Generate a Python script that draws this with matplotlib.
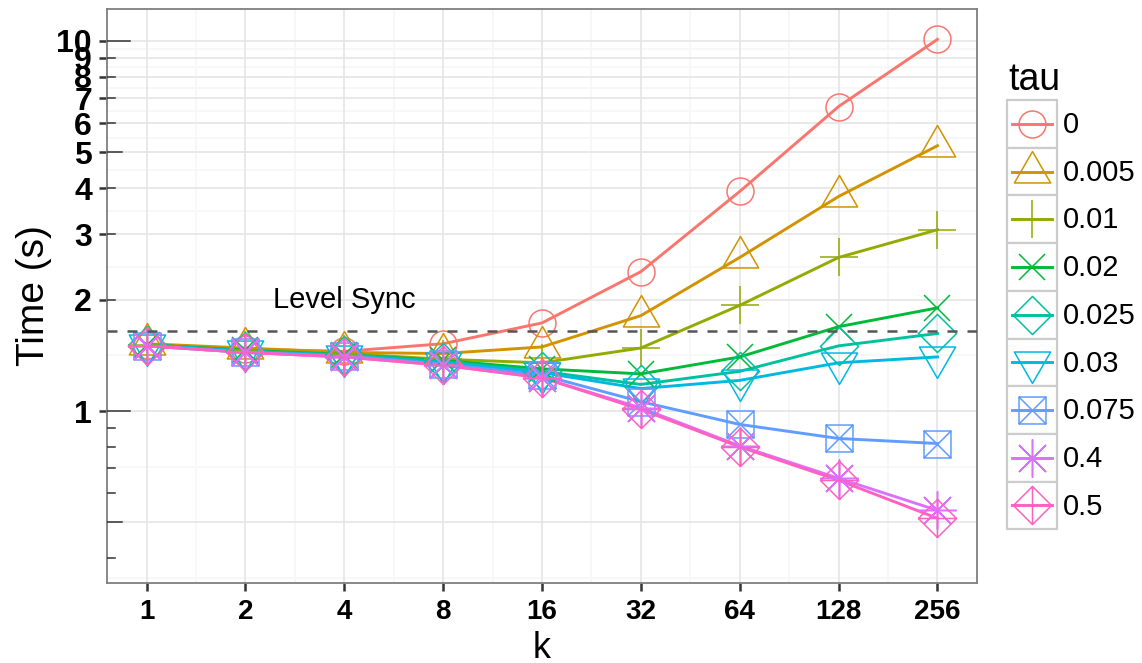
import numpy as np
import matplotlib
matplotlib.use("Agg")
import matplotlib.pyplot as plt
from matplotlib.path import Path
from matplotlib.lines import Line2D
from matplotlib.patches import Rectangle
from matplotlib.ticker import NullLocator
from matplotlib.legend_handler import HandlerLine2D

plt.rcParams['font.family'] = ['Liberation Sans', 'DejaVu Sans']

# data
K = [1, 2, 4, 8, 16, 32, 64, 128, 256]
TAU = ['0', '0.005', '0.01', '0.02', '0.025', '0.03', '0.075', '0.4', '0.5']

t_0 = [1.51, 1.47, 1.45, 1.52, 1.73, 2.38, 3.92, 6.65, 10.1]
t_0005 = [1.52, 1.48, 1.44, 1.43, 1.49, 1.81, 2.60, 3.80, 5.21]
t_001 = [1.51, 1.46, 1.43, 1.38, 1.35, 1.48, 1.93, 2.60, 3.09]
t_002 = [1.51, 1.46, 1.42, 1.37, 1.30, 1.26, 1.40, 1.69, 1.90]
t_0025 = [1.51, 1.45, 1.42, 1.36, 1.28, 1.18, 1.28, 1.50, 1.62]
t_003 = [1.51, 1.45, 1.41, 1.35, 1.27, 1.15, 1.21, 1.35, 1.40]
t_0075 = [1.50, 1.44, 1.41, 1.34, 1.25, 1.06, 0.92, 0.843, 0.817]
t_04 = [1.50, 1.44, 1.40, 1.33, 1.23, 1.02, 0.805, 0.658, 0.539]
t_05 = [1.50, 1.44, 1.40, 1.33, 1.23, 1.01, 0.800, 0.650, 0.513]
SERIES = [t_0, t_0005, t_001, t_002, t_0025, t_003, t_0075, t_04, t_05]

LEVEL_SYNC = 1.645

Y_LABELED = [1, 2, 3, 4, 5, 6, 7, 8, 9, 10]
Y_GRID = [0.5] + Y_LABELED
LOG_LONG = [1, 10]
LOG_MID = [0.5, 5]
LOG_SHORT = [0.4, 0.6, 0.7, 0.8, 0.9, 2, 3, 4, 6, 7, 8, 9]

COLORS = ['#F8766D', '#D39200', '#93AA00', '#00BA38', '#00C19F',
          '#00B9E3', '#619CFF', '#DB72FB', '#FF61C3']

M, L, C = Path.MOVETO, Path.LINETO, Path.CLOSEPOLY
tri_up = Path([(0, 1), (-0.866, -0.5), (0.866, -0.5), (0, 1)], [M, L, L, C])
tri_dn = Path([(0, -1), (-0.866, 0.5), (0.866, 0.5), (0, -1)], [M, L, L, C])
diamond = Path([(0, 1), (1, 0), (0, -1), (-1, 0), (0, 1)], [M, L, L, L, C])
square_x = Path([(-1, -1), (1, -1), (1, 1), (-1, 1), (-1, -1),
                 (-1, -1), (1, 1), (-1, 1), (1, -1)],
                [M, L, L, L, C, M, L, M, L])
diamond_plus = Path([(0, 1), (1, 0), (0, -1), (-1, 0), (0, 1),
                     (-1, 0), (1, 0), (0, -1), (0, 1)],
                    [M, L, L, L, C, M, L, M, L])

MARKERS = ['o', tri_up, '+', 'x', diamond, tri_dn, square_x, (8, 2, 0), diamond_plus]
R0 = 9.7
SIZES = [2 * R0, 3.11 * R0, 2.83 * R0, 2 * R0, 2.83 * R0, 3.11 * R0, 2 * R0, 2.83 * R0, 2.83 * R0]
LW = 2.1
MEW = 1.1


class BoxHandler(HandlerLine2D):
    def create_artists(self, legend, orig_handle, xdescent, ydescent,
                       width, height, fontsize, trans):
        box = Rectangle((-xdescent, -ydescent), width, height, facecolor='white',
                        edgecolor='#CCCCCC', lw=1.6, transform=trans)
        y = -ydescent + height / 2
        x0 = -xdescent + 0.1 * width
        x1 = -xdescent + 0.9 * width
        line = Line2D([x0, x1], [y, y])
        self.update_prop(line, orig_handle, legend)
        line.set_marker('')
        line.set_transform(trans)
        mk = Line2D([(x0 + x1) / 2], [y])
        self.update_prop(mk, orig_handle, legend)
        mk.set_linestyle('none')
        mk.set_transform(trans)
        return [box, line, mk]


fig = plt.figure(figsize=(11.42, 6.63), dpi=100)
ax = fig.add_axes([107 / 1142, 1 - 583 / 663, 870 / 1142, 574 / 663])

ax.set_xscale('log', base=2)
ax.set_yscale('log')

# grid
for v in Y_GRID:
    ax.axhline(v, color='#E5E5E5', lw=1.2, zorder=0.5)
y_minor = [np.sqrt(a * b) for a, b in zip(Y_GRID[:-1], Y_GRID[1:])] + [0.5 / np.sqrt(2)]
for v in y_minor:
    ax.axhline(v, color='#F6F6F6', lw=1.2, zorder=0.4)
for v in K:
    ax.axvline(v, color='#E5E5E5', lw=1.2, zorder=0.5)
for a, b in zip(K[:-1], K[1:]):
    ax.axvline(np.sqrt(a * b), color='#F6F6F6', lw=1.2, zorder=0.4)

# lines first, then points (ggplot order)
for vals, c in zip(SERIES, COLORS):
    ax.plot(K, vals, color=c, lw=LW, zorder=3)
for vals, c, m, ms in zip(SERIES, COLORS, MARKERS, SIZES):
    ax.plot(K, vals, ls='none', marker=m, ms=ms, mfc='none', mec=c, mew=MEW, zorder=4)

ax.axhline(LEVEL_SYNC, color='#555555', lw=1.8, ls=(0, (4, 4)), zorder=5)
ax.text(4, 2.0, 'Level Sync', ha='center', va='center', fontsize=21, zorder=6)

# log ticks inside the panel
tr = ax.get_yaxis_transform()
for vals, frac in [(LOG_LONG, 23 / 870), (LOG_MID, 15 / 870), (LOG_SHORT, 8 / 870)]:
    for v in vals:
        ax.plot([0, frac], [v, v], transform=tr, color='#333333', lw=1.1, zorder=6)

ax.set_xlim(2 ** -0.4, 2 ** 8.4)
ax.set_ylim(0.343, 12.2)

ax.set_xticks(K, [str(k) for k in K])
ax.set_yticks(Y_LABELED, [str(v) for v in Y_LABELED])
ax.xaxis.set_minor_locator(NullLocator())
ax.yaxis.set_minor_locator(NullLocator())
ax.tick_params(axis='both', which='major', direction='out', length=5.8, width=1.8,
               color='#333333', labelcolor='black')
ax.tick_params(axis='x', pad=6.0, labelsize=20)
ax.tick_params(axis='y', pad=5.0, labelsize=23)
for lbl in ax.get_xticklabels() + ax.get_yticklabels():
    lbl.set_fontweight('bold')

for sp in ax.spines.values():
    sp.set_color('#7F7F7F')
    sp.set_linewidth(1.3)

ax.set_xlabel('k', fontsize=26, labelpad=4)
ax.set_ylabel('Time (s)', fontsize=28, labelpad=3)

handles = [Line2D([], [], color=c, lw=LW, marker=m, ms=ms, mfc='none', mec=c, mew=MEW)
           for c, m, ms in zip(COLORS, MARKERS, SIZES)]
fs = 21
px = fs * 100 / 72
key_h = 47.7 / px
fig.text(1008 / 1142, 1 - 90 / 663, 'tau', fontsize=27, ha='left', va='baseline')
fig.legend(handles, TAU, loc='upper left', bbox_to_anchor=(1007 / 1142, 1 - 100 / 663),
           frameon=False, fontsize=fs,
           handlelength=50 / px, handleheight=(key_h - 0.245) / 0.65, labelspacing=0,
           handletextpad=0.2, borderpad=0, borderaxespad=0,
           handler_map={Line2D: BoxHandler()})

fig.savefig('out.png', dpi=100)
